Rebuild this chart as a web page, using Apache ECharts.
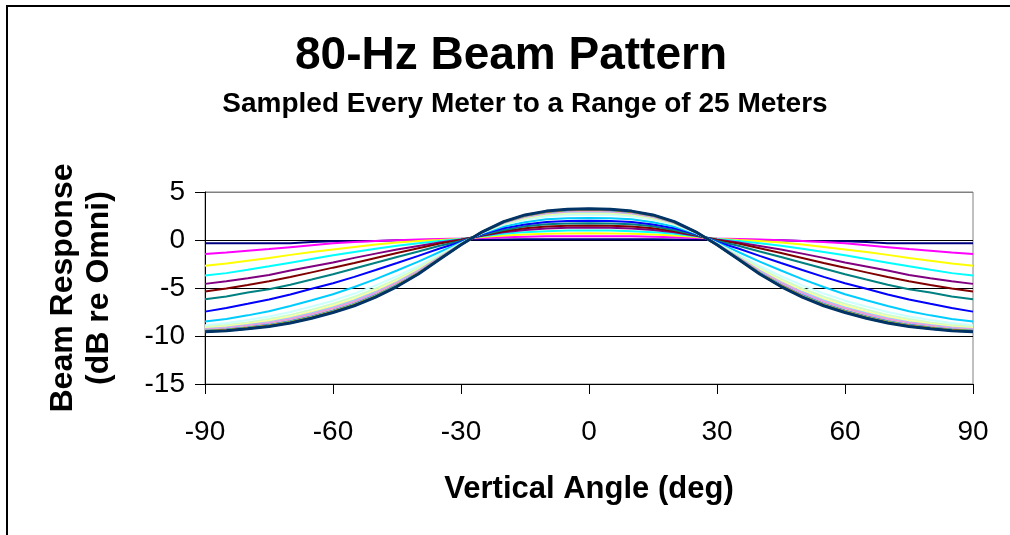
<!DOCTYPE html>
<html><head><meta charset="utf-8">
<script src="https://cdn.jsdelivr.net/npm/echarts@6/dist/echarts.min.js"></script>
<style>html,body{margin:0;padding:0;background:#fff}#c{width:1010px;height:535px}</style>
</head><body><div id="c"></div>
<script>
const angles = [-90,-85,-80,-75,-70,-65,-60,-55,-50,-45,-40,-35,-30,-25,-20,-15,-10,-5,0,5,10,15,20,25,30,35,40,45,50,55,60,65,70,75,80,85,90];
const xTicks = [-90,-60,-30,0,30,60,90];
const yTicks = [-15,-10,-5,0,5];

const r1 = [-0.35,-0.35,-0.35,-0.34,-0.33,-0.2,-0.14,-0.13,-0.1,-0.02,0.0,0.03,0.04,0.05,0.06,0.07,0.07,0.08,0.08,0.08,0.07,0.07,0.06,0.05,0.04,0.03,0.0,-0.02,-0.1,-0.13,-0.14,-0.2,-0.33,-0.34,-0.35,-0.35,-0.35];
const r2 = [-1.45,-1.3,-1.12,-0.95,-0.75,-0.55,-0.35,-0.2,-0.1,-0.02,0.05,0.1,0.15,0.22,0.29,0.34,0.38,0.4,0.4,0.4,0.38,0.34,0.29,0.22,0.15,0.1,0.05,-0.02,-0.1,-0.2,-0.35,-0.55,-0.75,-0.95,-1.12,-1.3,-1.45];
const r3 = [-2.69,-2.45,-2.15,-1.88,-1.55,-1.25,-0.98,-0.72,-0.47,-0.25,-0.1,0.0,0.12,0.3,0.47,0.58,0.65,0.69,0.7,0.69,0.65,0.58,0.47,0.3,0.12,0.0,-0.1,-0.25,-0.47,-0.72,-0.98,-1.25,-1.55,-1.88,-2.15,-2.45,-2.69];
const r4 = [-3.7,-3.45,-3.1,-2.74,-2.36,-1.98,-1.6,-1.25,-0.9,-0.6,-0.33,-0.1,0.1,0.38,0.64,0.82,0.92,0.98,1.0,0.98,0.92,0.82,0.64,0.38,0.1,-0.1,-0.33,-0.6,-0.9,-1.25,-1.6,-1.98,-2.36,-2.74,-3.1,-3.45,-3.7];
const r5 = [-4.57,-4.3,-3.98,-3.64,-3.18,-2.75,-2.35,-1.86,-1.42,-1.0,-0.62,-0.25,0.05,0.45,0.8,1.05,1.2,1.28,1.3,1.28,1.2,1.05,0.8,0.45,0.05,-0.25,-0.62,-1.0,-1.42,-1.86,-2.35,-2.75,-3.18,-3.64,-3.98,-4.3,-4.57];
const r6 = [-5.37,-5.05,-4.68,-4.3,-3.86,-3.37,-2.88,-2.4,-1.88,-1.36,-0.86,-0.36,0.0,0.5,0.92,1.22,1.4,1.48,1.5,1.48,1.4,1.22,0.92,0.5,0.0,-0.36,-0.86,-1.36,-1.88,-2.4,-2.88,-3.37,-3.86,-4.3,-4.68,-5.05,-5.37];
const r7 = [-6.17,-5.88,-5.48,-5.12,-4.66,-4.12,-3.57,-2.97,-2.37,-1.78,-1.2,-0.6,-0.1,0.55,1.05,1.42,1.63,1.72,1.75,1.72,1.63,1.42,1.05,0.55,-0.1,-0.6,-1.2,-1.78,-2.37,-2.97,-3.57,-4.12,-4.66,-5.12,-5.48,-5.88,-6.17];
const r8 = [-7.46,-7.08,-6.65,-6.2,-5.67,-5.08,-4.5,-3.84,-3.13,-2.4,-1.65,-0.88,-0.2,0.62,1.22,1.62,1.87,1.97,2.0,1.97,1.87,1.62,1.22,0.62,-0.2,-0.88,-1.65,-2.4,-3.13,-3.84,-4.5,-5.08,-5.67,-6.2,-6.65,-7.08,-7.46];
const r9 = [-8.5,-8.22,-7.85,-7.42,-6.88,-6.28,-5.65,-4.9,-4.07,-3.18,-2.25,-1.25,-0.28,0.7,1.4,1.85,2.15,2.27,2.3,2.27,2.15,1.85,1.4,0.7,-0.28,-1.25,-2.25,-3.18,-4.07,-4.9,-5.65,-6.28,-6.88,-7.42,-7.85,-8.22,-8.5];
const r10 = [-8.87,-8.65,-8.34,-7.97,-7.5,-6.93,-6.32,-5.58,-4.73,-3.76,-2.71,-1.51,-0.36,0.75,1.58,2.11,2.45,2.6,2.63,2.6,2.45,2.11,1.58,0.75,-0.36,-1.51,-2.71,-3.76,-4.73,-5.58,-6.32,-6.93,-7.5,-7.97,-8.34,-8.65,-8.87];
const r11 = [-9.05,-8.86,-8.58,-8.24,-7.8,-7.25,-6.64,-5.91,-5.05,-4.05,-2.93,-1.64,-0.39,0.78,1.66,2.24,2.59,2.75,2.79,2.75,2.59,2.24,1.66,0.78,-0.39,-1.64,-2.93,-4.05,-5.05,-5.91,-6.64,-7.25,-7.8,-8.24,-8.58,-8.86,-9.05];
const r12 = [-9.16,-9.0,-8.73,-8.42,-8.0,-7.46,-6.85,-6.13,-5.25,-4.23,-3.07,-1.72,-0.42,0.79,1.72,2.32,2.69,2.86,2.9,2.86,2.69,2.32,1.72,0.79,-0.42,-1.72,-3.07,-4.23,-5.25,-6.13,-6.85,-7.46,-8.0,-8.42,-8.73,-9.0,-9.16];
const r13 = [-9.26,-9.11,-8.86,-8.56,-8.15,-7.63,-7.02,-6.3,-5.42,-4.38,-3.19,-1.79,-0.44,0.81,1.76,2.39,2.76,2.94,2.98,2.94,2.76,2.39,1.76,0.81,-0.44,-1.79,-3.19,-4.38,-5.42,-6.3,-7.02,-7.63,-8.15,-8.56,-8.86,-9.11,-9.26];
const r14 = [-9.32,-9.18,-8.94,-8.65,-8.26,-7.74,-7.13,-6.42,-5.54,-4.48,-3.26,-1.84,-0.45,0.82,1.79,2.44,2.81,3.0,3.04,3.0,2.81,2.44,1.79,0.82,-0.45,-1.84,-3.26,-4.48,-5.54,-6.42,-7.13,-7.74,-8.26,-8.65,-8.94,-9.18,-9.32];
const r15 = [-9.37,-9.24,-9.01,-8.73,-8.35,-7.83,-7.23,-6.52,-5.63,-4.57,-3.33,-1.87,-0.46,0.82,1.82,2.47,2.86,3.04,3.09,3.04,2.86,2.47,1.82,0.82,-0.46,-1.87,-3.33,-4.57,-5.63,-6.52,-7.23,-7.83,-8.35,-8.73,-9.01,-9.24,-9.37];
const r16 = [-9.41,-9.29,-9.07,-8.79,-8.42,-7.91,-7.3,-6.6,-5.71,-4.63,-3.38,-1.9,-0.47,0.83,1.84,2.5,2.89,3.08,3.13,3.08,2.89,2.5,1.84,0.83,-0.47,-1.9,-3.38,-4.63,-5.71,-6.6,-7.3,-7.91,-8.42,-8.79,-9.07,-9.29,-9.41];
const r17 = [-9.45,-9.33,-9.11,-8.84,-8.47,-7.96,-7.36,-6.66,-5.76,-4.68,-3.42,-1.93,-0.48,0.84,1.85,2.53,2.92,3.11,3.16,3.11,2.92,2.53,1.85,0.84,-0.48,-1.93,-3.42,-4.68,-5.76,-6.66,-7.36,-7.96,-8.47,-8.84,-9.11,-9.33,-9.45];
const r18 = [-9.47,-9.36,-9.15,-8.88,-8.52,-8.01,-7.41,-6.7,-5.81,-4.72,-3.45,-1.94,-0.48,0.84,1.86,2.54,2.94,3.13,3.18,3.13,2.94,2.54,1.86,0.84,-0.48,-1.94,-3.45,-4.72,-5.81,-6.7,-7.41,-8.01,-8.52,-8.88,-9.15,-9.36,-9.47];
const r19 = [-9.49,-9.38,-9.17,-8.91,-8.55,-8.05,-7.45,-6.74,-5.85,-4.76,-3.48,-1.96,-0.49,0.84,1.87,2.56,2.95,3.15,3.2,3.15,2.95,2.56,1.87,0.84,-0.49,-1.96,-3.48,-4.76,-5.85,-6.74,-7.45,-8.05,-8.55,-8.91,-9.17,-9.38,-9.49];
const r20 = [-9.51,-9.4,-9.19,-8.94,-8.58,-8.08,-7.47,-6.77,-5.87,-4.78,-3.5,-1.97,-0.49,0.84,1.88,2.57,2.97,3.16,3.21,3.16,2.97,2.57,1.88,0.84,-0.49,-1.97,-3.5,-4.78,-5.87,-6.77,-7.47,-8.08,-8.58,-8.94,-9.19,-9.4,-9.51];
const r21 = [-9.52,-9.42,-9.21,-8.96,-8.6,-8.1,-7.5,-6.8,-5.9,-4.8,-3.51,-1.98,-0.49,0.85,1.89,2.58,2.98,3.17,3.22,3.17,2.98,2.58,1.89,0.85,-0.49,-1.98,-3.51,-4.8,-5.9,-6.8,-7.5,-8.1,-8.6,-8.96,-9.21,-9.42,-9.52];
const r22 = [-9.53,-9.43,-9.22,-8.97,-8.62,-8.12,-7.52,-6.81,-5.92,-4.82,-3.53,-1.99,-0.5,0.85,1.89,2.59,2.98,3.18,3.23,3.18,2.98,2.59,1.89,0.85,-0.5,-1.99,-3.53,-4.82,-5.92,-6.81,-7.52,-8.12,-8.62,-8.97,-9.22,-9.43,-9.53];
const r23 = [-9.54,-9.44,-9.24,-8.98,-8.63,-8.13,-7.53,-6.83,-5.93,-4.83,-3.54,-1.99,-0.5,0.85,1.9,2.59,2.99,3.19,3.24,3.19,2.99,2.59,1.9,0.85,-0.5,-1.99,-3.54,-4.83,-5.93,-6.83,-7.53,-8.13,-8.63,-8.98,-9.24,-9.44,-9.54];
const r24 = [-9.55,-9.45,-9.24,-8.99,-8.64,-8.14,-7.54,-6.84,-5.94,-4.84,-3.54,-2.0,-0.5,0.85,1.9,2.6,3.0,3.2,3.25,3.2,3.0,2.6,1.9,0.85,-0.5,-2.0,-3.54,-4.84,-5.94,-6.84,-7.54,-8.14,-8.64,-8.99,-9.24,-9.45,-9.55];
const r25 = [-9.56,-9.45,-9.25,-9.0,-8.65,-8.15,-7.55,-6.85,-5.95,-4.85,-3.55,-2.0,-0.5,0.85,1.91,2.61,3.01,3.21,3.26,3.21,3.01,2.61,1.91,0.85,-0.5,-2.0,-3.55,-4.85,-5.95,-6.85,-7.55,-8.15,-8.65,-9.0,-9.25,-9.45,-9.56];

const ranges = [r1,r2,r3,r4,r5,r6,r7,r8,r9,r10,r11,r12,r13,r14,r15,r16,r17,r18,r19,r20,r21,r22,r23,r24,r25];
const rangeNames = ['1 m','2 m','3 m','4 m','5 m','6 m','7 m','8 m','9 m','10 m','11 m','12 m','13 m','14 m','15 m','16 m','17 m','18 m','19 m','20 m','21 m','22 m','23 m','24 m','25 m'];
const colors = ['#000080','#FF00FF','#FFFF00','#00FFFF','#800080','#800000','#008080','#0000FF','#00CCFF','#CCFFFF','#CCFFCC','#FFFF99','#99CCFF','#FF99CC','#CC99FF','#FFCC99','#3366FF','#33CCCC','#99CC00','#FFCC00','#FF9900','#FF6600','#666699','#969696','#003366'];

const FONT = '"Liberation Sans", Arial, sans-serif';
const chart = echarts.init(document.getElementById('c'), null, {renderer:'canvas'});
chart.setOption({
  animation: false,
  backgroundColor: '#fff',
  title: [
    {text:'80-Hz Beam Pattern', left:511, top:33, textAlign:'center', padding:0,
     textStyle:{fontSize:46, fontWeight:'bold', color:'#000', fontFamily:FONT}},
    {text:'Sampled Every Meter to a Range of 25 Meters', left:525, top:90, textAlign:'center', padding:0,
     textStyle:{fontSize:28, fontWeight:'bold', color:'#000', fontFamily:FONT}}
  ],
  graphic: [
    {type:'rect', shape:{x:7, y:6, width:1100, height:700}, style:{fill:'none', stroke:'#000', lineWidth:2}, silent:true}
  ],
  grid: {left:205, top:192, width:768, height:192, show:true, borderColor:'#808080', borderWidth:1, backgroundColor:'transparent'},
  xAxis: {
    type:'value', min:-90, max:90, interval:30,
    name:'Vertical Angle (deg)', nameLocation:'middle', nameGap:90,
    nameTextStyle:{fontSize:31, fontWeight:'bold', color:'#000', fontFamily:FONT},
    axisLine:{show:true, onZero:false, lineStyle:{color:'#000', width:1}},
    axisTick:{show:true, inside:false, length:10, lineStyle:{color:'#000'}},
    axisLabel:{fontSize:28, color:'#000', margin:34, fontFamily:FONT,
      formatter: v => xTicks.includes(v) ? String(v) : ''},
    splitLine:{show:false}
  },
  yAxis: {
    type:'value', min:-15, max:5, interval:5,
    name:'Beam Response\n(dB re Omni)', nameLocation:'middle', nameRotate:90, nameGap:88,
    nameTextStyle:{fontSize:32, fontWeight:'bold', color:'#000', fontFamily:FONT, lineHeight:36, align:'center'},
    axisLine:{show:true, onZero:false, lineStyle:{color:'#000', width:1}},
    axisTick:{show:true, inside:false, length:10, lineStyle:{color:'#000'}},
    axisLabel:{fontSize:28, color:'#000', margin:20, fontFamily:FONT,
      formatter: v => yTicks.includes(v) ? String(v) : ''},
    splitLine:{show:true, lineStyle:{color:['#000','#000','#000','#000','#808080'], width:1}}
  },
  series: ranges.map((vals, i) => ({
    name: rangeNames[i],
    type:'line',
    data: angles.map((a, j) => [a, vals[j]]),
    showSymbol:false, symbol:'none',
    lineStyle:{color:colors[i], width: i === ranges.length - 1 ? 3 : 2},
    itemStyle:{color:colors[i]},
    z: 2 + i * 0.01
  }))
});
</script></body></html>
